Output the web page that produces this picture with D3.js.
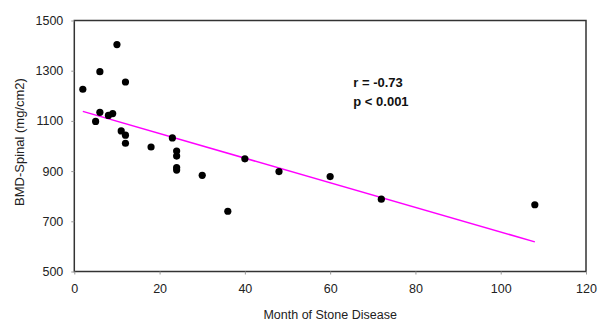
<!DOCTYPE html>
<html>
<head>
<meta charset="utf-8">
<script src="https://cdn.jsdelivr.net/npm/d3@7"></script>
<style>
  body { margin: 0; background: #fff; }
  text { font-family: "Liberation Sans", Arial, sans-serif; fill: #222; }
</style>
</head>
<body>
<script>
// data
var months = [2, 10, 6, 12, 6, 5, 8, 9, 11, 12, 12, 18, 23, 24, 24, 24, 24, 30, 36, 40, 48, 60, 72, 108];
var bmd = [1226, 1404, 1296, 1255, 1134, 1098, 1122, 1129, 1060, 1043, 1011, 996, 1032, 980, 960, 914, 904, 883, 740, 949, 898, 878, 788, 766];

// regression line end points
var trendX = [2, 108];
var trendY = [1138, 618];

var xTicks = [0, 20, 40, 60, 80, 100, 120];
var yTicks = [500, 700, 900, 1100, 1300, 1500];

// size of the graph
var margin = {top: 20.5, right: 12, bottom: 52.5, left: 74.3},
    width = 598 - margin.left - margin.right,
    height = 324 - margin.top - margin.bottom;

var x = d3.scaleLinear().domain([0, 120]).range([0, width]);
var y = d3.scaleLinear().domain([500, 1500]).range([height, 0]);

var svg = d3.select("body").append("svg")
    .attr("width", 598)
    .attr("height", 324)
    .append("g")
    .attr("transform", "translate(" + margin.left + "," + margin.top + ")");

// frame
svg.append("rect")
    .attr("width", width)
    .attr("height", height)
    .style("fill", "none")
    .style("stroke", "#333")
    .style("stroke-width", 1.5);

// axes
var xAxis = svg.append("g")
    .attr("transform", "translate(0," + height + ")")
    .call(d3.axisBottom(x).tickValues(xTicks).tickFormat(d3.format("d")).tickSize(3).tickPadding(10));

var yAxis = svg.append("g")
    .call(d3.axisLeft(y).tickValues(yTicks).tickFormat(d3.format("d")).tickSize(3).tickPadding(8));

[xAxis, yAxis].forEach(function(a) {
    a.select(".domain").remove();
    a.selectAll("line").style("stroke", "#999");
    a.selectAll("text").style("font-size", "12.5px").style("fill", "#222");
});

// axis titles
svg.append("text")
    .attr("x", width / 2)
    .attr("y", height + 47)
    .style("text-anchor", "middle")
    .style("font-size", "12.5px")
    .text("Month of Stone Disease");

svg.append("text")
    .attr("transform", "translate(" + (-50) + "," + (height / 2 - 4) + ") rotate(-90)")
    .style("text-anchor", "middle")
    .style("font-size", "13px")
    .text("BMD-Spinal (mg/cm2)");

// trend line
var line = d3.line()
    .x(function(d) { return x(d[0]); })
    .y(function(d) { return y(d[1]); });

svg.append("path")
    .datum(d3.zip(trendX, trendY))
    .attr("d", line)
    .style("fill", "none")
    .style("stroke", "#ff00ff")
    .style("stroke-width", 1.5);

// points
svg.selectAll("circle").data(d3.zip(months, bmd)).enter().append("circle")
    .attr("cx", function(d) { return x(d[0]); })
    .attr("cy", function(d) { return y(d[1]); })
    .attr("r", 3.6)
    .style("fill", "#000");

// stats
svg.append("text")
    .attr("x", 279)
    .attr("y", 66)
    .style("font-size", "13px")
    .style("font-weight", "bold")
    .style("fill", "#111")
    .text("r = -0.73");

svg.append("text")
    .attr("x", 279)
    .attr("y", 85)
    .style("font-size", "13px")
    .style("font-weight", "bold")
    .style("fill", "#111")
    .text("p < 0.001");
</script>
</body>
</html>
